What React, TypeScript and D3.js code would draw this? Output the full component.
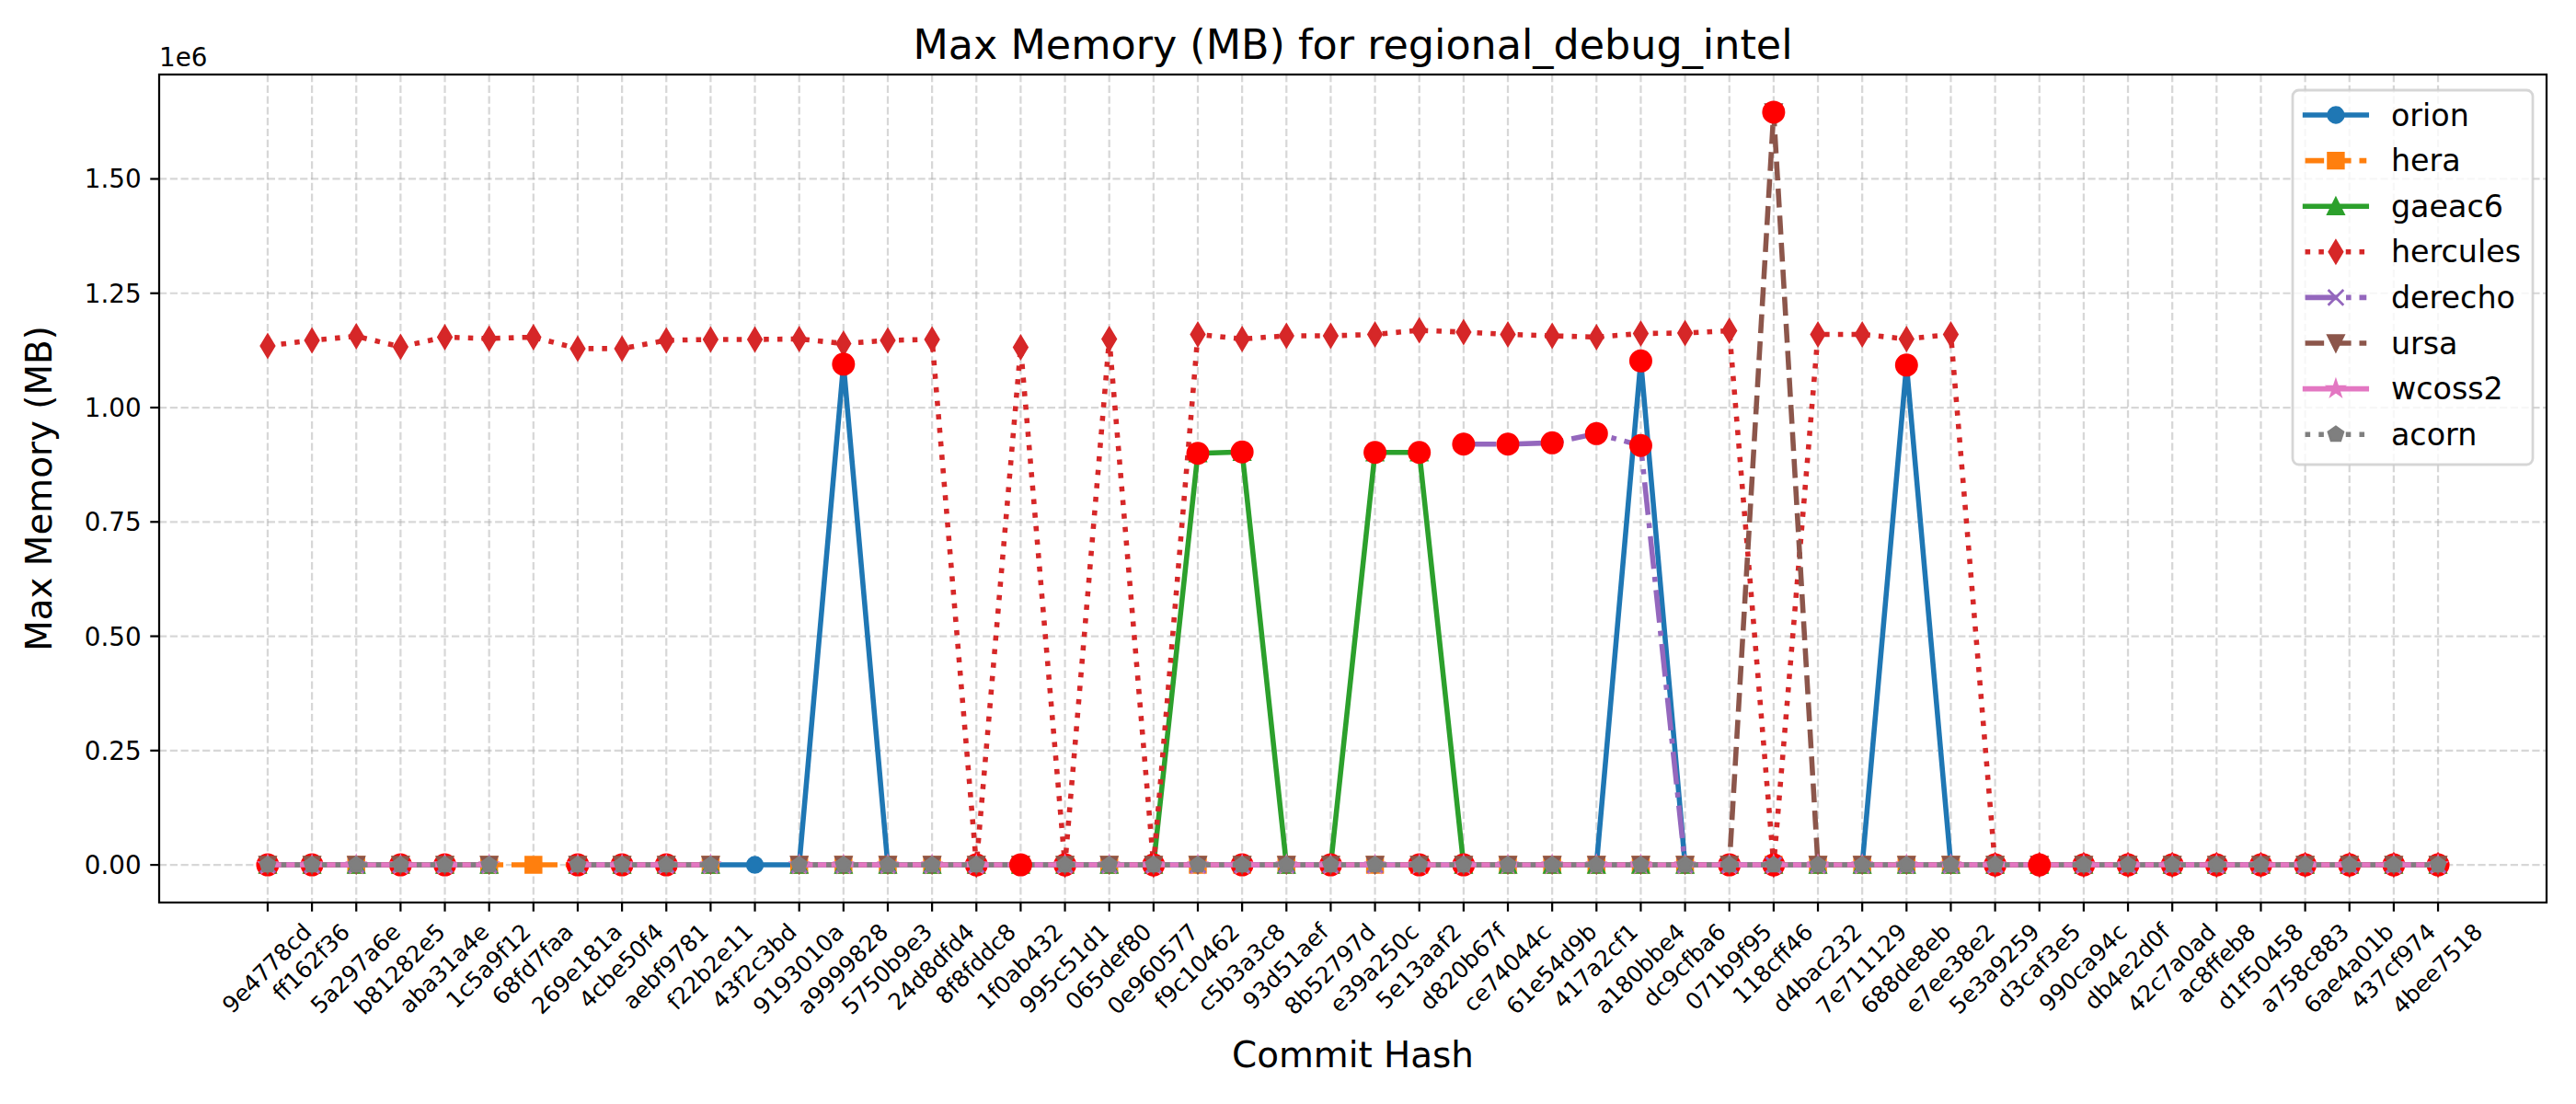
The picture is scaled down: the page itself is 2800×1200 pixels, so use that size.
import React from "react";
import * as d3 from "d3";

const PT = 200 / 72;

const commits = [
  "9e4778cd", "ff162f36", "5a297a6e", "b81282e5", "aba31a4e", "1c5a9f12", "68fd7faa", "269e181a", "4cbe50f4", "aebf9781",
  "f22b2e11", "43f2c3bd", "9193010a", "a9999828", "5750b9e3", "24d8dfd4", "8f8fddc8", "1f0ab432", "995c51d1", "065def80",
  "0e960577", "f9c10462", "c5b3a3c8", "93d51aef", "8b52797d", "e39a250c", "5e13aaf2", "d820b67f", "ce74044c", "61e54d9b",
  "417a2cf1", "a180bbe4", "dc9cfba6", "071b9f95", "118cff46", "d4bac232", "7e711129", "688de8eb", "e7ee38e2", "5e3a9259",
  "d3caf3e5", "990ca94c", "db4e2d0f", "42c7a0ad", "ac8ffeb8", "d1f50458", "a758c883", "6ae4a01b", "437cf974", "4bee7518",
];

const _ = null;

const orion = [
  0, 0, 0, 0, 0, 0, _, 0, 0, 0,
  0, 0, 0, 1095000, 0, 0, 0, 0, 0, 0,
  0, 0, 0, 0, 0, 0, 0, 0, 0, 0,
  0, 1102000, 0, 0, 0, 0, 0, 1093000, 0, 0,
  0, 0, 0, 0, 0, 0, 0, 0, 0, 0,
];
const hera = [
  0, 0, 0, 0, 0, 0, 0, 0, 0, 0,
  0, _, 0, 0, 0, 0, 0, 0, 0, 0,
  0, 0, 0, 0, 0, 0, 0, 0, 0, 0,
  0, 0, 0, 0, 0, 0, 0, 0, 0, 0,
  0, 0, 0, 0, 0, 0, 0, 0, 0, 0,
];
const gaeac6 = [
  0, 0, 0, 0, 0, 0, _, 0, 0, 0,
  0, _, 0, 0, 0, 0, 0, 0, 0, 0,
  0, 900000, 903000, 0, 0, 902000, 902000, 0, 0, 0,
  0, 0, 0, 0, 0, 0, 0, 0, 0, 0,
  0, 0, 0, 0, 0, 0, 0, 0, 0, 0,
];
const hercules = [
  1135000, 1147000, 1156000, 1133000, 1154000, 1151000, 1154000, 1129000, 1129000, 1147000,
  1149000, 1149000, 1150000, 1140000, 1147000, 1149000, 0, 1132000, 0, 1150000,
  0, 1160000, 1150000, 1157000, 1157000, 1160000, 1169000, 1165000, 1160000, 1157000,
  1154000, 1162000, 1163000, 1168000, 0, 1160000, 1160000, 1150000, 1160000, 0,
  0, 0, 0, 0, 0, 0, 0, 0, 0, 0,
];
const derecho = [
  0, 0, 0, 0, 0, 0, _, 0, 0, 0,
  0, _, 0, 0, 0, 0, 0, 0, 0, 0,
  0, 0, 0, 0, 0, 0, _, 920000, 920000, 923000,
  943000, 917000, 0, 0, 0, 0, 0, 0, 0, 0,
  0, 0, 0, 0, 0, 0, 0, 0, 0, 0,
];
const ursa = [
  0, 0, 0, 0, 0, 0, _, 0, 0, 0,
  0, _, 0, 0, 0, 0, 0, 0, 0, 0,
  0, 0, 0, 0, 0, 0, 0, 0, 0, 0,
  0, 0, 0, 0, 1646000, 0, 0, 0, 0, 0,
  0, 0, 0, 0, 0, 0, 0, 0, 0, 0,
];
const wcoss2 = [
  0, 0, 0, 0, 0, 0, _, 0, 0, 0,
  0, _, 0, 0, 0, 0, 0, 0, 0, 0,
  0, 0, 0, 0, 0, 0, 0, 0, 0, 0,
  0, 0, 0, 0, 0, 0, 0, 0, 0, 0,
  0, 0, 0, 0, 0, 0, 0, 0, 0, 0,
];
const acorn = [
  0, 0, 0, 0, 0, 0, _, 0, 0, 0,
  0, _, 0, 0, 0, 0, 0, 0, 0, 0,
  0, 0, 0, 0, 0, 0, 0, 0, 0, 0,
  0, 0, 0, 0, 0, 0, 0, 0, 0, 0,
  0, 0, 0, 0, 0, 0, 0, 0, 0, 0,
];

// flagged (red circle) points: [machine, commit]
const flaggedLow: [string, string][] = [
  "9e4778cd", "ff162f36", "b81282e5", "aba31a4e", "269e181a", "4cbe50f4", "aebf9781",
  "8f8fddc8", "995c51d1", "0e960577", "c5b3a3c8", "8b52797d", "5e13aaf2", "d820b67f",
  "071b9f95", "118cff46", "5e3a9259", "990ca94c", "db4e2d0f", "42c7a0ad", "ac8ffeb8",
  "d1f50458", "a758c883", "6ae4a01b", "437cf974", "4bee7518",
].map((c) => ["hera", c] as [string, string]);
const flaggedHigh: [string, string][] = [
  ["orion", "a9999828"], ["gaeac6", "f9c10462"], ["gaeac6", "c5b3a3c8"], ["gaeac6", "e39a250c"],
  ["gaeac6", "5e13aaf2"], ["derecho", "d820b67f"], ["derecho", "ce74044c"], ["derecho", "61e54d9b"],
  ["derecho", "417a2cf1"], ["derecho", "a180bbe4"], ["orion", "a180bbe4"], ["ursa", "118cff46"],
  ["orion", "688de8eb"],
];
const flaggedTop: [string, string][] = [["acorn", "1f0ab432"], ["acorn", "d3caf3e5"]];

const yTickValues = [0, 250000, 500000, 750000, 1000000, 1250000, 1500000];

const title = "Max Memory (MB) for regional_debug_intel";
const xLabel = "Commit Hash";
const yLabel = "Max Memory (MB)";

type Marker = "o" | "s" | "^" | "d" | "x" | "v" | "*" | "p";
interface Series { name: string; values: (number | null)[]; color: string; dash: number[] | null; marker: Marker; }

const LW = 2 * PT;
const MS = 6 * PT;
const MEW = 1 * PT;
const DASHED = [7.4 * PT, 3.2 * PT];
const DOTTED = [2 * PT, 3.3 * PT];
const DASHDOT = [12.8 * PT, 3.2 * PT, 2 * PT, 3.2 * PT];

const series: Series[] = [
  { name: "orion", values: orion, color: "#1f77b4", dash: null, marker: "o" },
  { name: "hera", values: hera, color: "#ff7f0e", dash: DASHED, marker: "s" },
  { name: "gaeac6", values: gaeac6, color: "#2ca02c", dash: null, marker: "^" },
  { name: "hercules", values: hercules, color: "#d62728", dash: DOTTED, marker: "d" },
  { name: "derecho", values: derecho, color: "#9467bd", dash: DASHDOT, marker: "x" },
  { name: "ursa", values: ursa, color: "#8c564b", dash: DASHED, marker: "v" },
  { name: "wcoss2", values: wcoss2, color: "#e377c2", dash: null, marker: "*" },
  { name: "acorn", values: acorn, color: "#7f7f7f", dash: DOTTED, marker: "p" },
];

function markerPath(kind: Marker, s: number): string {
  const h = s / 2;
  switch (kind) {
    case "o":
      return `M${h},0A${h},${h} 0 1,1 ${-h},0A${h},${h} 0 1,1 ${h},0Z`;
    case "s":
      return `M${-h},${-h}H${h}V${h}H${-h}Z`;
    case "^":
      return `M0,${-h}L${-h},${h}L${h},${h}Z`;
    case "v":
      return `M0,${h}L${-h},${-h}L${h},${-h}Z`;
    case "d": {
      const dh = s * Math.SQRT1_2;
      const dw = 0.6 * dh;
      return `M0,${-dh}L${dw},0L0,${dh}L${-dw},0Z`;
    }
    case "x":
      return `M${-h},${-h}L${h},${h}M${-h},${h}L${h},${-h}`;
    case "p": {
      const pts = d3.range(5).map((k) => {
        const a = (2 * Math.PI * k) / 5;
        return [h * Math.sin(a), -h * Math.cos(a)];
      });
      return "M" + pts.map((p) => p.join(",")).join("L") + "Z";
    }
    case "*": {
      const inner = h * 0.381966;
      const pts = d3.range(10).map((k) => {
        const a = (Math.PI * k) / 5;
        const r = k % 2 === 0 ? h : inner;
        return [r * Math.sin(a), -r * Math.cos(a)];
      });
      return "M" + pts.map((p) => p.join(",")).join("L") + "Z";
    }
  }
  return "";
}

const CW: Record<string, number> = {
  "0": 0.636, "1": 0.636, "2": 0.636, "3": 0.636, "4": 0.636, "5": 0.636, "6": 0.636, "7": 0.636, "8": 0.636, "9": 0.636,
  a: 0.613, b: 0.635, c: 0.55, d: 0.635, e: 0.615, f: 0.352,
};
const textW = (s: string, f: number) => s.split("").reduce((acc, ch) => acc + (CW[ch] ?? 0.6), 0) * f;

export default function App() {
  const W = 2800, H = 1200;
  const left = 173, right = 2768, top = 81, bottom = 981;
  const n = commits.length;
  const x = d3.scaleLinear().domain([-(n - 1) * 0.05, (n - 1) * 1.05]).range([left, right]);
  const allVals = series.flatMap((s) => s.values.filter((v): v is number => v != null));
  const [ymin, ymax] = d3.extent(allVals) as [number, number];
  const pad = (ymax - ymin) * 0.05;
  const y = d3.scaleLinear().domain([ymin - pad, ymax + pad]).range([bottom, top]);

  const line = d3.line<number | null>()
    .defined((v) => v != null)
    .x((_v, i) => x(i))
    .y((v) => y(v as number));

  const byName: Record<string, Series> = {};
  series.forEach((s) => (byName[s.name] = s));

  const FR = 8 * PT / 2;
  const flags = (list: [string, string][], key: string) =>
    list.map(([m, c], k) => {
      const i = commits.indexOf(c);
      const v = byName[m].values[i];
      if (v == null) return null;
      return <circle key={key + k} cx={x(i)} cy={y(v)} r={FR} fill="#ff0000" stroke="#ff0000" strokeWidth={MEW} />;
    });

  const layer = (s: Series) => (
    <g key={s.name}>
      <path
        d={line(s.values) || ""}
        fill="none"
        stroke={s.color}
        strokeWidth={LW}
        strokeDasharray={s.dash ? s.dash.join(",") : undefined}
        strokeLinecap={s.dash ? "butt" : "square"}
        strokeLinejoin="round"
      />
      {s.values.map((v, i) =>
        v == null ? null : (
          <path
            key={i}
            d={markerPath(s.marker, MS)}
            transform={`translate(${x(i)},${y(v)})`}
            fill={s.marker === "x" ? "none" : s.color}
            stroke={s.color}
            strokeWidth={MEW}
            strokeLinejoin="miter"
          />
        )
      )}
    </g>
  );

  const gridDash = [2.96 * PT, 1.28 * PT].join(",");
  const gridColor = "#b0b0b0";
  const tickF = 10 * PT;
  const xtickF = 9 * PT;
  const xLabTop = bottom + 3.5 * PT + 3.5 * PT;

  const legX = 2492, legY = 98, legW = 261, legH = 407;
  const legF = 12 * PT;
  const rowY = (i: number) => 125 + i * 49.6;
  const hx0 = 2505.6, hx1 = 2505.6 + 2 * legF;

  return (
    <svg width={W} height={H} style={{ position: "absolute", left: 0, top: 0 }} fontFamily="DejaVu Sans">
      <rect x={0} y={0} width={W} height={H} fill="#ffffff" />
      {/* grid */}
      <g stroke={gridColor} strokeOpacity={0.5} strokeWidth={0.8 * PT} strokeDasharray={gridDash}>
        {commits.map((c, i) => (
          <line key={c} x1={x(i)} x2={x(i)} y1={top} y2={bottom} />
        ))}
        {yTickValues.map((t) => (
          <line key={t} x1={left} x2={right} y1={y(t)} y2={y(t)} />
        ))}
      </g>
      {/* series */}
      {layer(series[0])}
      {layer(series[1])}
      {layer(series[2])}
      {layer(series[3])}
      {flags(flaggedLow, "lo")}
      {layer(series[4])}
      {layer(series[5])}
      {layer(series[6])}
      {flags(flaggedHigh, "hi")}
      {layer(series[7])}
      {flags(flaggedTop, "top")}
      {/* spines */}
      <rect x={left} y={top} width={right - left} height={bottom - top} fill="none" stroke="#000" strokeWidth={0.8 * PT} />
      {/* x ticks */}
      {commits.map((c, i) => {
        const tx = x(i);
        const L = textW(c, xtickF);
        const side = (L + xtickF) * Math.SQRT1_2;
        const cy = xLabTop + side / 2;
        return (
          <g key={c}>
            <line x1={tx} x2={tx} y1={bottom} y2={bottom + 3.5 * PT} stroke="#000" strokeWidth={0.8 * PT} />
            <text transform={`translate(${tx},${cy}) rotate(-45)`} x={0} y={0.3 * xtickF} textAnchor="middle" fontSize={xtickF} fill="#000">
              {c}
            </text>
          </g>
        );
      })}
      {/* y ticks */}
      {yTickValues.map((t) => (
        <g key={t}>
          <line x1={left - 3.5 * PT} x2={left} y1={y(t)} y2={y(t)} stroke="#000" strokeWidth={0.8 * PT} />
          <text x={left - 7 * PT} y={y(t) + 0.36 * tickF} textAnchor="end" fontSize={tickF} fill="#000">
            {(t / 1e6).toFixed(2)}
          </text>
        </g>
      ))}
      <text x={left} y={72} fontSize={tickF} fill="#000">1e6</text>
      {/* labels */}
      <text x={(left + right) / 2} y={64} textAnchor="middle" fontSize={16 * PT} fill="#000">{title}</text>
      <text x={(left + right) / 2} y={1160} textAnchor="middle" fontSize={14 * PT} fill="#000">{xLabel}</text>
      <text transform={`translate(56,${(top + bottom) / 2}) rotate(-90)`} textAnchor="middle" fontSize={14 * PT} fill="#000">{yLabel}</text>
      {/* legend */}
      <rect x={legX} y={legY} width={legW} height={legH} rx={0.2 * legF} fill="#ffffff" fillOpacity={0.8} stroke="#cccccc" strokeOpacity={0.8} strokeWidth={1 * PT} />
      {series.map((s, i) => {
        const cy = rowY(i);
        const cx = (hx0 + hx1) / 2;
        return (
          <g key={s.name}>
            <line x1={hx0} x2={hx1} y1={cy} y2={cy} stroke={s.color} strokeWidth={LW}
              strokeDasharray={s.dash ? s.dash.join(",") : undefined}
              strokeLinecap={s.dash ? "butt" : "square"} />
            <path d={markerPath(s.marker, MS)} transform={`translate(${cx},${cy})`}
              fill={s.marker === "x" ? "none" : s.color} stroke={s.color} strokeWidth={MEW} />
            <text x={hx1 + 0.8 * legF} y={cy + 0.345 * legF} fontSize={legF} fill="#000">{s.name}</text>
          </g>
        );
      })}
    </svg>
  );
}
